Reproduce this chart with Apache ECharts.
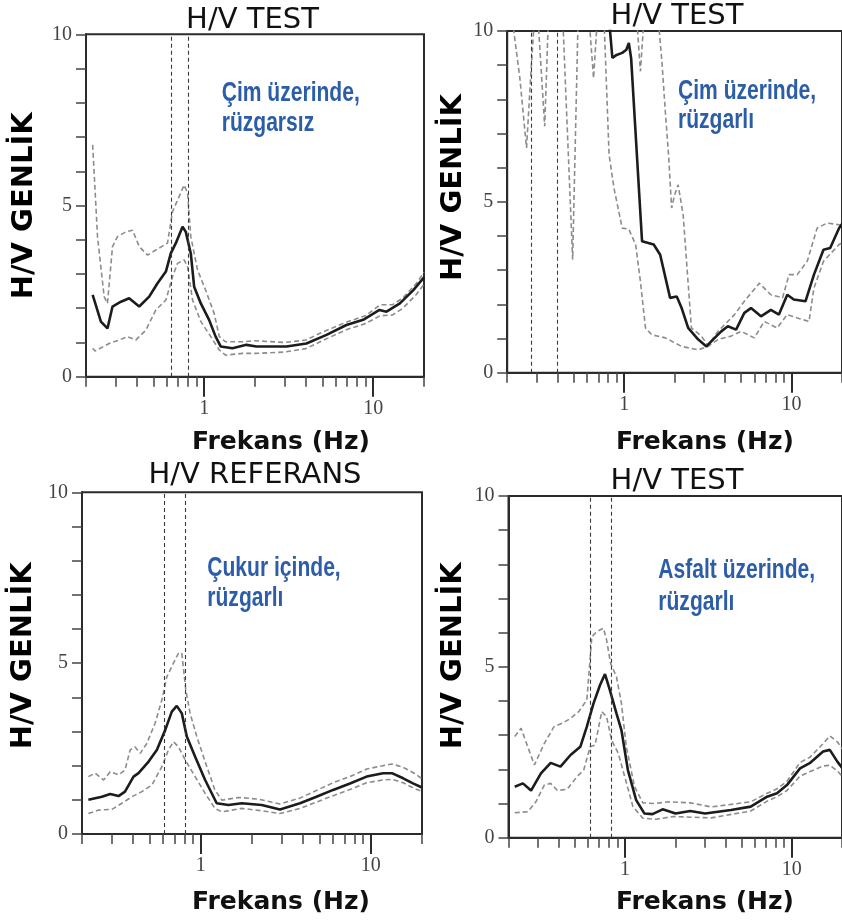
<!DOCTYPE html>
<html>
<head>
<meta charset="utf-8">
<script src="https://cdn.jsdelivr.net/npm/echarts@6/dist/echarts.min.js"></script>
<style>
html,body{margin:0;padding:0;background:#fff;}
#chart{width:842px;height:924px;}
</style>
</head>
<body>
<div id="chart"></div>
<script>
// ---------- tick values ----------
const majorHz = [1, 10];
const minorHz = [0.2, 0.3, 0.4, 0.5, 0.6, 0.7, 0.8, 0.9, 2, 3, 4, 5, 6, 7, 8, 9, 20];
const yTickLabels = [0, 5, 10];

// ---------- panel texts ----------
const panelTitles = ['H/V TEST', 'H/V TEST', 'H/V REFERANS', 'H/V TEST'];
const noteLine1 = ['Çim üzerinde,', 'Çim üzerinde,', 'Çukur içinde,', 'Asfalt üzerinde,'];
const noteLine2 = ['rüzgarsız', 'rüzgarlı', 'rüzgarlı', 'rüzgarlı'];
const xName = 'Frekans (Hz)';
const yName = 'H/V GENLİK';

// ---------- peak markers (Hz) ----------
const p1Markers = [0.635, 0.815];
const p2Markers = [0.283, 0.404];
const p3Markers = [0.606, 0.813];
const p4Markers = [0.624, 0.834];

// ---------- Panel 1 : Çim üzerinde, rüzgarsız ----------
const p1MeanHz = [0.219, 0.245, 0.268, 0.287, 0.322, 0.36, 0.413, 0.473, 0.53, 0.594, 0.635, 0.68, 0.745, 0.779, 0.834, 0.873, 0.956, 1.07, 1.17, 1.255, 1.47, 1.78, 2.04, 3.07, 4.03, 5.3, 6.95, 8.73, 10.9, 12.0, 14.4, 17.3, 20];
const p1MeanHV = [2.39, 1.61, 1.41, 2.05, 2.19, 2.29, 2.05, 2.34, 2.73, 3.07, 3.6, 3.9, 4.38, 4.23, 3.6, 2.63, 2.14, 1.66, 1.17, 0.88, 0.83, 0.93, 0.88, 0.88, 0.97, 1.22, 1.51, 1.66, 1.95, 1.90, 2.14, 2.53, 2.9];
const p1UpperHz = [0.219, 0.234, 0.256, 0.268, 0.287, 0.307, 0.344, 0.377, 0.413, 0.463, 0.518, 0.607, 0.65, 0.711, 0.762, 0.798, 0.834, 0.914, 1.02, 1.146, 1.23, 1.34, 1.69, 2.0, 3.0, 4.0, 5.0, 7.0, 9.0, 11.0, 13.0, 15.0, 18.0, 20];
const p1UpperHV = [6.77, 4.09, 2.34, 2.14, 3.8, 4.09, 4.23, 4.28, 3.8, 3.55, 3.7, 3.9, 4.82, 5.26, 5.6, 5.36, 4.09, 3.12, 2.53, 1.85, 1.17, 1.02, 1.02, 1.05, 1.0, 1.07, 1.3, 1.6, 1.78, 2.1, 2.1, 2.3, 2.72, 3.05];
const p1LowerHz = [0.219, 0.226, 0.274, 0.314, 0.352, 0.394, 0.452, 0.518, 0.594, 0.65, 0.696, 0.762, 0.798, 0.854, 0.956, 1.095, 1.23, 1.34, 1.69, 2.0, 3.0, 4.0, 5.0, 7.0, 9.0, 11.0, 13.0, 15.0, 18.0, 20];
const p1LowerHV = [0.83, 0.75, 0.97, 1.07, 1.17, 1.07, 1.36, 1.95, 2.24, 2.92, 3.31, 3.41, 3.21, 2.24, 1.61, 1.17, 0.78, 0.63, 0.68, 0.68, 0.72, 0.82, 1.05, 1.38, 1.55, 1.78, 1.8, 2.0, 2.4, 2.7];

// ---------- Panel 2 : Çim üzerinde, rüzgarlı ----------
const p2MeanHz = [0.2, 0.79, 0.85, 0.9, 0.973, 1.03, 1.066, 1.1, 1.278, 1.5, 1.64, 1.88, 2.06, 2.2, 2.41, 2.77, 3.1, 3.39, 3.8, 4.16, 4.66, 5.22, 5.72, 6.56, 7.52, 8.4, 9.42, 10.3, 12.1, 13.6, 15.5, 17.0, 19.2, 20];
const p2MeanHV = [11, 11, 9.21, 9.3, 9.36, 9.45, 9.65, 9.2, 3.85, 3.75, 3.45, 2.19, 2.23, 1.9, 1.31, 0.97, 0.77, 0.97, 1.21, 1.36, 1.26, 1.75, 1.89, 1.65, 1.84, 1.70, 2.28, 2.14, 2.09, 2.87, 3.6, 3.65, 4.23, 4.35];
const p2UpperHz = [0.2, 1.15, 1.19, 1.25, 1.31, 1.35, 1.55, 1.6, 1.68, 1.76, 1.84, 1.92, 2.0, 2.1, 2.25, 2.52, 2.89, 3.17, 3.63, 4.56, 5.22, 6.41, 7.52, 8.83, 9.65, 10.8, 12.4, 14.2, 16.3, 19.2, 20];
const p2UpperHV = [11, 11, 10.3, 8.82, 10.3, 11, 11, 10.3, 9.1, 7.65, 6.38, 4.82, 5.2, 5.5, 4.62, 1.31, 1.07, 0.8, 1.21, 1.70, 2.09, 2.62, 2.28, 2.19, 2.87, 2.87, 3.26, 4.23, 4.38, 4.33, 4.3];
const p2LowerHz = [0.2, 0.215, 0.238, 0.261, 0.275, 0.29, 0.3, 0.306, 0.335, 0.352, 0.38, 0.43, 0.492, 0.53, 0.56, 0.618, 0.656, 0.69, 0.72, 0.758, 0.812, 0.869, 0.973, 1.066, 1.17, 1.25, 1.34, 1.46, 1.76, 2.2, 2.77, 3.17, 3.63, 4.35, 4.99, 5.99, 6.86, 8.2, 9.42, 10.8, 12.7, 13.6, 15.5, 19.2, 20];
const p2LowerHV = [11, 10.3, 8.62, 6.58, 8.5, 10.3, 11, 10.3, 7.21, 10.3, 11, 10.3, 3.31, 10.3, 11, 10.3, 8.62, 10.3, 11, 10.3, 6.38, 5.4, 4.23, 4.2, 3.75, 2.67, 1.31, 1.11, 1.02, 0.77, 0.67, 0.77, 0.97, 1.07, 1.21, 1.02, 1.5, 1.31, 1.70, 1.6, 1.5, 2.48, 3.26, 3.75, 3.8];

// ---------- Panel 3 : Çukur içinde, rüzgarlı ----------
const p3MeanHz = [0.218, 0.262, 0.293, 0.328, 0.358, 0.402, 0.43, 0.493, 0.551, 0.617, 0.675, 0.722, 0.773, 0.827, 0.926, 1.06, 1.24, 1.455, 1.74, 2.28, 2.92, 3.83, 4.79, 6.0, 7.54, 9.45, 11.8, 13.3, 15.5, 17.7, 20];
const p3MeanHV = [1.0, 1.09, 1.17, 1.11, 1.24, 1.68, 1.78, 2.12, 2.46, 3.04, 3.58, 3.75, 3.53, 2.85, 2.26, 1.58, 0.9, 0.85, 0.9, 0.85, 0.72, 0.9, 1.09, 1.29, 1.48, 1.68, 1.78, 1.78, 1.63, 1.48, 1.36];
const p3UpperHz = [0.218, 0.239, 0.268, 0.293, 0.328, 0.358, 0.384, 0.41, 0.44, 0.481, 0.538, 0.59, 0.631, 0.69, 0.739, 0.773, 0.816, 0.865, 0.947, 1.085, 1.21, 1.33, 1.67, 2.18, 2.92, 3.83, 6.0, 7.54, 9.45, 11.8, 13.3, 15.5, 17.7, 20];
const p3UpperHV = [1.68, 1.78, 1.58, 1.82, 1.73, 1.87, 2.46, 2.55, 2.36, 2.65, 3.24, 3.92, 4.6, 5.0, 5.29, 5.29, 4.21, 3.53, 2.85, 1.97, 1.29, 0.99, 1.07, 1.02, 0.88, 1.05, 1.5, 1.68, 1.9, 2.0, 2.05, 1.95, 1.8, 1.62];
const p3LowerHz = [0.218, 0.25, 0.3, 0.343, 0.393, 0.45, 0.515, 0.59, 0.645, 0.69, 0.739, 0.809, 0.926, 1.06, 1.21, 1.33, 1.74, 2.28, 2.92, 3.83, 6.0, 7.54, 9.45, 11.8, 13.3, 15.5, 17.7, 20];
const p3LowerHV = [0.6, 0.7, 0.72, 0.9, 1.09, 1.24, 1.43, 1.97, 2.46, 2.7, 2.55, 2.17, 1.68, 1.19, 0.75, 0.65, 0.75, 0.68, 0.6, 0.75, 1.12, 1.3, 1.5, 1.58, 1.6, 1.5, 1.35, 1.25];

// ---------- Panel 4 : Asfalt üzerinde, rüzgarlı ----------
const p4MeanHz = [0.218, 0.244, 0.273, 0.313, 0.358, 0.41, 0.471, 0.539, 0.59, 0.647, 0.708, 0.758, 0.811, 0.888, 0.951, 1.04, 1.166, 1.305, 1.46, 1.68, 2.01, 2.46, 3.02, 4.32, 5.67, 7.11, 8.15, 9.35, 11.2, 12.8, 15.4, 16.9, 18.8, 20];
const p4MeanHV = [1.49, 1.59, 1.38, 1.88, 2.19, 2.08, 2.42, 2.66, 3.25, 3.93, 4.47, 4.79, 4.32, 3.64, 3.15, 1.98, 1.1, 0.71, 0.69, 0.83, 0.71, 0.78, 0.71, 0.81, 0.91, 1.2, 1.3, 1.54, 2.03, 2.18, 2.52, 2.57, 2.22, 2.05];
const p4UpperHz = [0.218, 0.238, 0.261, 0.286, 0.328, 0.375, 0.42, 0.471, 0.527, 0.59, 0.632, 0.677, 0.742, 0.775, 0.819, 0.888, 0.951, 1.018, 1.14, 1.28, 1.5, 1.83, 2.46, 3.29, 5.67, 7.11, 8.15, 9.35, 11.2, 12.8, 15.4, 16.9, 18.8, 20];
const p4UpperHV = [2.96, 3.2, 2.66, 2.13, 2.76, 3.25, 3.35, 3.49, 3.69, 4.03, 5.88, 6.03, 6.13, 5.79, 5.1, 4.71, 3.93, 2.66, 1.49, 1.02, 1.0, 1.05, 1.02, 0.9, 1.05, 1.3, 1.43, 1.65, 2.2, 2.35, 2.75, 2.98, 2.8, 2.6];
const p4LowerHz = [0.218, 0.261, 0.292, 0.328, 0.358, 0.393, 0.45, 0.516, 0.565, 0.618, 0.661, 0.725, 0.775, 0.83, 0.91, 0.995, 1.115, 1.28, 1.53, 1.95, 2.5, 3.29, 5.67, 7.11, 8.15, 9.35, 11.2, 12.8, 15.4, 16.9, 18.8, 20];
const p4LowerHV = [0.73, 0.76, 1.05, 1.54, 1.59, 1.38, 1.42, 1.79, 1.98, 2.66, 2.71, 3.69, 3.54, 2.86, 2.47, 1.79, 0.91, 0.57, 0.54, 0.62, 0.6, 0.58, 0.78, 1.07, 1.2, 1.38, 1.8, 1.93, 2.1, 2.12, 1.95, 1.8];

// ---------- layout ----------
const grids = [
  {left: 86,    top: 34.3,  width: 338, height: 342.4},
  {left: 507.2, top: 31,    width: 338, height: 341.7},
  {left: 82,    top: 492.3, width: 340, height: 341.7},
  {left: 508.5, top: 496,   width: 339, height: 341.7}
];
const titlePos = [[252.5, 20], [677, 16.7], [255, 475], [677, 481.7]];
const notePos = [[221.7, 94, 124], [678, 91.7, 120.7], [207.3, 569, 599], [658.3, 570.7, 602.4]];
const xNamePos = [[281, 442.5], [705, 442.5], [281, 902.5], [705, 902.5]];
const yNamePos = [[24.2, 205.8], [453.5, 187.5], [23.8, 655.8], [453.5, 655.8]];

const panels = [
  {mean: [p1MeanHz, p1MeanHV], upper: [p1UpperHz, p1UpperHV], lower: [p1LowerHz, p1LowerHV], markers: p1Markers},
  {mean: [p2MeanHz, p2MeanHV], upper: [p2UpperHz, p2UpperHV], lower: [p2LowerHz, p2LowerHV], markers: p2Markers},
  {mean: [p3MeanHz, p3MeanHV], upper: [p3UpperHz, p3UpperHV], lower: [p3LowerHz, p3LowerHV], markers: p3Markers},
  {mean: [p4MeanHz, p4MeanHV], upper: [p4UpperHz, p4UpperHV], lower: [p4LowerHz, p4LowerHV], markers: p4Markers}
];

const pairs = (xs, ys) => xs.map((x, i) => [x, ys[i]]);
const AXIS = '#2b2b2b';
const LABEL_FONT = '"Liberation Serif", "DejaVu Serif", serif';
const NOTE_FONT = 'bold 27px "Liberation Sans", Arial, sans-serif';
const NOTE_SCALE_X = 0.78;

const option = {
  animation: false,
  backgroundColor: '#fff',
  grid: grids.map(g => Object.assign({show: true, borderColor: AXIS, borderWidth: 2, backgroundColor: 'transparent', containLabel: false}, g)),
  xAxis: [],
  yAxis: [],
  series: [],
  graphic: []
};

grids.forEach((g, gi) => {
  option.xAxis.push({
    gridIndex: gi, type: 'log', logBase: 10, min: 0.2, max: 20, position: 'bottom',
    axisLine: {show: true, lineStyle: {color: AXIS, width: 2}},
    axisTick: {show: true, inside: false, length: 20, customValues: majorHz, lineStyle: {color: AXIS, width: 2}},
    axisLabel: {show: true, customValues: majorHz, margin: 22, fontFamily: LABEL_FONT, fontSize: 20, color: '#444',
                formatter: v => String(Math.round(v))},
    splitLine: {show: false}
  });
  option.xAxis.push({
    gridIndex: gi, type: 'log', logBase: 10, min: 0.2, max: 20, position: 'bottom',
    axisLine: {show: false},
    axisTick: {show: true, inside: false, length: 10, customValues: minorHz, lineStyle: {color: '#444', width: 1.5}},
    axisLabel: {show: false},
    splitLine: {show: false}
  });
  option.yAxis.push({
    gridIndex: gi, type: 'value', min: 0, max: 10, interval: 1,
    axisLine: {show: true, lineStyle: {color: AXIS, width: 2}},
    axisTick: {show: true, inside: false, length: 10, lineStyle: {color: '#444', width: 1.5}},
    axisLabel: {show: true, margin: 14, fontFamily: LABEL_FONT, fontSize: 20, color: '#444',
                formatter: v => (yTickLabels.indexOf(v) >= 0 ? String(v) : '')},
    splitLine: {show: false}
  });

  const p = panels[gi];
  const xi = gi * 2;
  option.series.push({
    type: 'line', xAxisIndex: xi, yAxisIndex: gi, data: pairs(p.upper[0], p.upper[1]),
    showSymbol: false, clip: true, lineStyle: {color: '#8c8c8c', width: 1.6, type: [5, 3]}, z: 3
  });
  option.series.push({
    type: 'line', xAxisIndex: xi, yAxisIndex: gi, data: pairs(p.lower[0], p.lower[1]),
    showSymbol: false, clip: true, lineStyle: {color: '#8c8c8c', width: 1.6, type: [5, 3]}, z: 3
  });
  option.series.push({
    type: 'line', xAxisIndex: xi, yAxisIndex: gi, data: pairs(p.mean[0], p.mean[1]),
    showSymbol: false, clip: true, lineStyle: {color: '#1c1c1c', width: 2.6}, z: 4,
    markLine: {
      silent: true, symbol: 'none', label: {show: false},
      lineStyle: {color: '#3a3a3a', width: 1.1, type: [4, 3]},
      data: p.markers.map(m => ({xAxis: m}))
    }
  });

  // texts
  option.graphic.push({
    type: 'text', x: titlePos[gi][0], y: titlePos[gi][1], silent: true,
    style: {text: panelTitles[gi], font: 'normal 29px "DejaVu Sans", sans-serif', fill: '#111', align: 'center', verticalAlign: 'middle'}
  });
  option.graphic.push({
    type: 'text', x: notePos[gi][0], y: notePos[gi][1], scaleX: NOTE_SCALE_X, silent: true,
    style: {text: noteLine1[gi], font: NOTE_FONT, fill: '#2c5da8', align: 'left', verticalAlign: 'middle'}
  });
  option.graphic.push({
    type: 'text', x: notePos[gi][0], y: notePos[gi][2], scaleX: NOTE_SCALE_X, silent: true,
    style: {text: noteLine2[gi], font: NOTE_FONT, fill: '#2c5da8', align: 'left', verticalAlign: 'middle'}
  });
  option.graphic.push({
    type: 'text', x: xNamePos[gi][0], y: xNamePos[gi][1], silent: true,
    style: {text: xName, font: 'bold 25px "DejaVu Sans", sans-serif', fill: '#111', align: 'center', verticalAlign: 'middle'}
  });
  option.graphic.push({
    type: 'text', x: yNamePos[gi][0], y: yNamePos[gi][1], rotation: Math.PI / 2, silent: true,
    style: {text: yName, font: 'bold 29px "DejaVu Sans", sans-serif', fill: '#000', align: 'center', verticalAlign: 'middle'}
  });
});

const chart = echarts.init(document.getElementById('chart'), null, {renderer: 'canvas', width: 842, height: 924});
chart.setOption(option);
</script>
</body>
</html>
